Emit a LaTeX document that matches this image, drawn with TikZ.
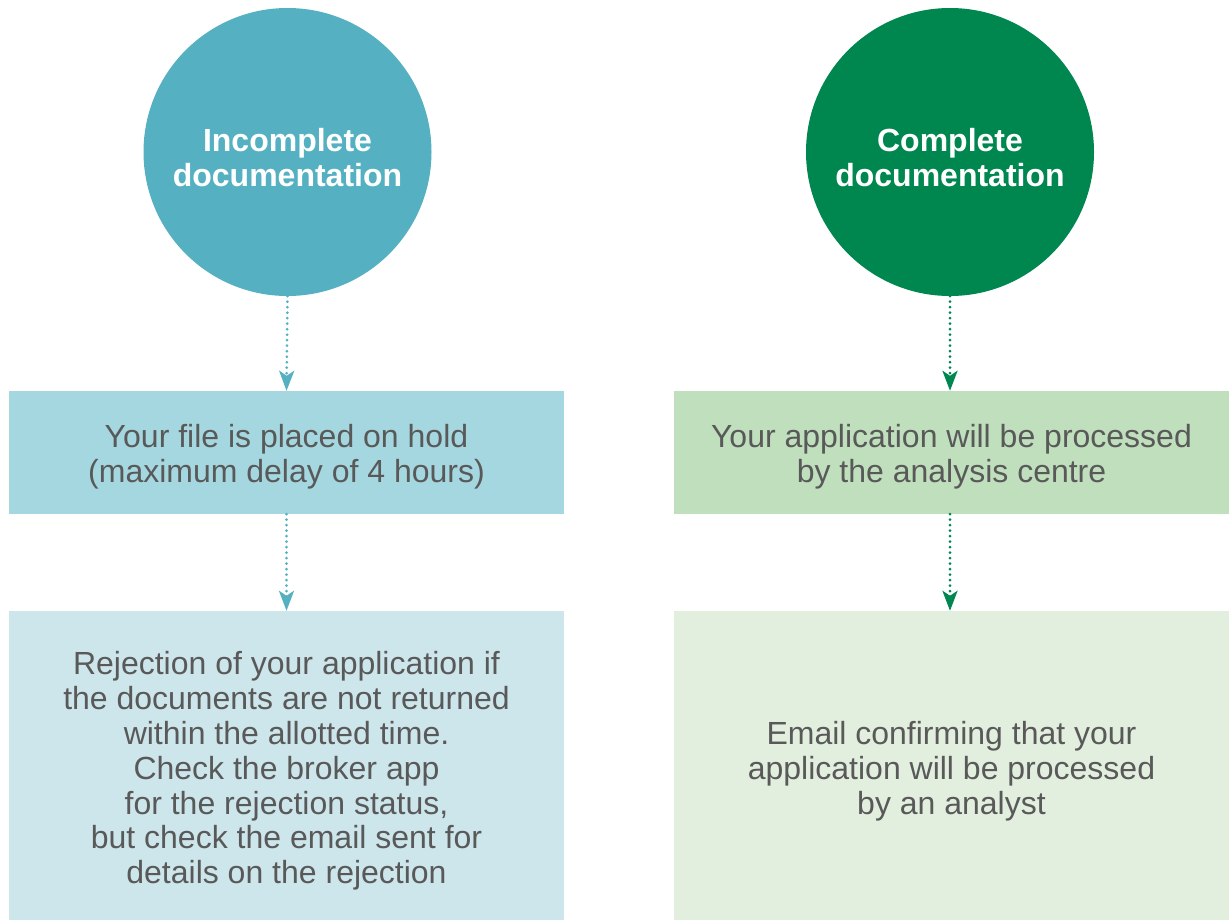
\documentclass[tikz,border=0pt]{standalone}
\usepackage{fontspec}
\setmainfont{Liberation Sans}
\usetikzlibrary{arrows.meta}
\definecolor{tealdark}{HTML}{55B1C2}
\definecolor{teallight}{HTML}{A5D7E0}
\definecolor{tealpale}{HTML}{CDE6EB}
\definecolor{greendark}{HTML}{00864F}
\definecolor{greenlight}{HTML}{BFDFBD}
\definecolor{greenpale}{HTML}{E2EFDF}
\definecolor{bodytext}{HTML}{595959}
\tikzset{
  x=1pt, y=-1pt,
  bigcircle/.style={circle, minimum size=288pt, inner sep=0pt},
  circletext/.style={text=white, inner sep=0pt, align=center,
    font=\fontsize{32}{35}\selectfont\bfseries},
  infobox/.style={rectangle, minimum width=555pt, inner sep=0pt},
  boxtext/.style={text=bodytext, inner sep=0pt, align=center,
    font=\fontsize{32}{34.8}\selectfont},
  flow/.style={line width=3pt, dash pattern=on 0pt off 5.5pt, line cap=round,
    -{Stealth[length=20pt, width=15pt, inset=5pt, line cap=butt]}},
}
\begin{document}
\begin{tikzpicture}
\useasboundingbox (0,0) rectangle (1229,919);
% left column: incomplete documentation
\node[bigcircle, fill=tealdark] (inc) at (287.5,152) {};
\node[circletext] (inclabel) at (287.5,158) {Incomplete\\documentation};
\node[infobox, fill=teallight, minimum height=123pt] (hold) at (286.5,452.5) {};
\node[boxtext] (holdtext) at (286.5,457) {Your file is placed on hold\\(maximum delay of 4 hours)};
\node[infobox, fill=tealpale, minimum height=309pt] (reject) at (286.5,765.5) {};
\node[boxtext] (rejecttext) at (286.5,771) {Rejection of your application if\\the documents are not returned\\within the allotted time.\\Check the broker app\\for the rejection status,\\but check the email sent for\\details on the rejection};
% right column: complete documentation
\node[bigcircle, fill=greendark] (comp) at (950,152) {};
\node[circletext] (complabel) at (950,158) {Complete\\documentation};
\node[infobox, fill=greenlight, minimum height=123pt] (proc) at (951.5,452.5) {};
\node[boxtext] (proctext) at (951.5,457) {Your application will be processed\\by the analysis centre};
\node[infobox, fill=greenpale, minimum height=309pt] (mail) at (951.5,765.5) {};
\node[boxtext] (mailtext) at (951.5,771) {Email confirming that your\\application will be processed\\by an analyst};
% connectors
\draw[flow, tealdark] (inc.south) -- (hold.north);
\draw[flow, tealdark] (hold.south) -- (reject.north);
\draw[flow, greendark] (comp.south) -- (comp.south |- proc.north);
\draw[flow, greendark] (comp.south |- proc.south) -- (comp.south |- mail.north);
\end{tikzpicture}
\end{document}
